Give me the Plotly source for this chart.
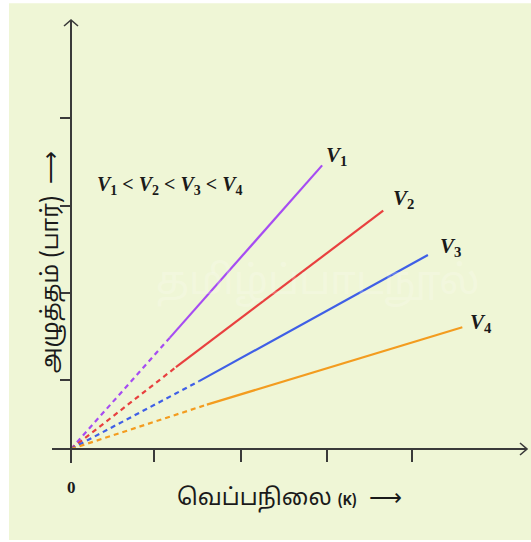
import plotly.graph_objects as go

# ---- data (arbitrary units: 1 unit ~ one tick spacing) ----
series_names = ["V1", "V2", "V3", "V4"]
series_colors = ["#a64cf2", "#e8403f", "#3f5fe6", "#f39c1f"]
# dashed (extrapolated) part: from origin to these points
dash_end_x = [1.15, 1.22, 1.49, 1.58]
dash_end_y = [1.28, 0.94, 0.78, 0.51]
# solid (measured) part end points
solid_end_x = [2.92, 3.63, 4.15, 4.55]
solid_end_y = [3.26, 2.74, 2.23, 1.40]
# label positions
label_x = [3.09, 3.87, 4.41, 4.77]
label_y = [3.37, 2.87, 2.32, 1.45]
label_subs = ["1", "2", "3", "4"]
x_tickvals = [0.97, 1.98, 2.98, 3.97]
y_tickvals = [0.79, 1.79, 2.79, 3.80]

x_range = [-0.221, 5.302]
y_range = [-0.161, 4.931]

BG = "#eff6d6"
AX = "#3a3a3a"
TXT = "#1a1a1a"
TAMIL = "Noto Sans Tamil, Noto Sans, Lato, sans-serif"
SERIF = "Liberation Serif, Times New Roman, serif"

fig = go.Figure()

for i, name in enumerate(series_names):
    fig.add_trace(go.Scatter(
        x=[0, dash_end_x[i]], y=[0, dash_end_y[i]], mode="lines",
        line=dict(color=series_colors[i], width=2.2, dash="5px,4px"),
        showlegend=False, hoverinfo="skip"))
    fig.add_trace(go.Scatter(
        x=[dash_end_x[i], solid_end_x[i]], y=[dash_end_y[i], solid_end_y[i]],
        mode="lines", line=dict(color=series_colors[i], width=2.2),
        name=name, showlegend=False))

annotations = []
for i in range(4):
    annotations.append(dict(
        x=label_x[i], y=label_y[i], xref="x", yref="y", showarrow=False,
        text=f"<b><i>V</i></b><b><sub>{label_subs[i]}</sub></b>",
        font=dict(family=SERIF, size=21, color=TXT)))

annotations.append(dict(
    x=1.15, y=3.03, xref="x", yref="y", showarrow=False,
    text="<b><i>V</i><sub>1</sub> < <i>V</i><sub>2</sub> < <i>V</i><sub>3</sub> < <i>V</i><sub>4</sub></b>",
    font=dict(family=SERIF, size=20, color=TXT)))

# origin label
annotations.append(dict(
    x=0, y=0, xref="x", yref="y", showarrow=False, yshift=-39,
    text="<b>0</b>", font=dict(family=SERIF, size=17, color=TXT)))

# faint watermark
annotations.append(dict(
    x=0.56, y=0.405, xref="paper", yref="paper", showarrow=False,
    text="தமிழ்ப்பாடநூல்", font=dict(family=TAMIL, size=40, color="rgba(255,255,255,0.2)")))

# axis titles
annotations.append(dict(
    x=-0.032, y=0.454, xref="paper", yref="paper", showarrow=False, textangle=-90,
    text="அழுத்தம் (பார்)  ⟶", font=dict(family=TAMIL, size=23, color=TXT)))
annotations.append(dict(
    x=0.50, y=-0.12, xref="paper", yref="paper", showarrow=False,
    text="வெப்பநிலை <b><span style='font-size:14px'>(K)</span></b>  ⟶",
    font=dict(family=TAMIL, size=23, color=TXT)))

shapes = [
    # background panel with thin white border
    dict(type="rect", xref="paper", yref="paper", x0=-0.0905, x1=1.01, y0=-0.174, y1=1.038,
         fillcolor=BG, line=dict(width=0), layer="below"),
    # arrowheads
    dict(type="path", xref="x", yref="paper", xsizemode="pixel", ysizemode="pixel",
         xanchor=0, yanchor=1, path="M -7,-6 L 0,0 L 7,-6",
         line=dict(color=AX, width=1.6)),
    dict(type="path", xref="paper", yref="y", xsizemode="pixel", ysizemode="pixel",
         xanchor=1, yanchor=0, path="M -7,6 L 0,0 L -7,-6",
         line=dict(color=AX, width=1.6)),
]

fig.update_layout(
    width=531, height=542,
    margin=dict(l=52, r=4, t=20, b=79, pad=0),
    paper_bgcolor="white", plot_bgcolor="rgba(0,0,0,0)",
    annotations=annotations, shapes=shapes,
    xaxis=dict(range=x_range, showgrid=False, zeroline=False,
               showline=True, linecolor=AX, linewidth=1.6,
               anchor="free", position=0.0316,
               tickmode="array", tickvals=x_tickvals, ticks="outside",
               ticklen=12, tickwidth=1.6, tickcolor=AX, showticklabels=False,
               fixedrange=True),
    yaxis=dict(range=y_range, showgrid=False, zeroline=False,
               showline=True, linecolor=AX, linewidth=1.6,
               anchor="free", position=0.04,
               tickmode="array", tickvals=y_tickvals, ticks="outside",
               ticklen=10, tickwidth=1.6, tickcolor=AX, showticklabels=False,
               fixedrange=True),
    showlegend=False,
)

fig.write_html("out.html", config={"displayModeBar": False},
               post_script="document.body.style.margin='0';document.body.style.overflow='hidden';")
